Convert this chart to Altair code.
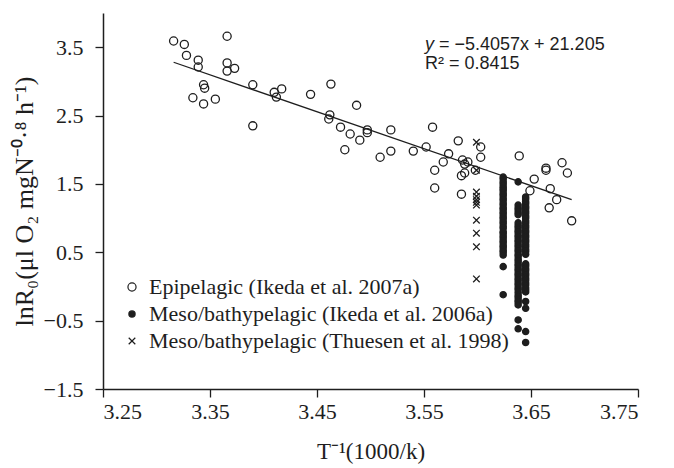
import altair as alt
import pandas as pd

# Epipelagic (open circles)
epi_x = [3.316, 3.326, 3.328, 3.339, 3.339, 3.366, 3.366, 3.366, 3.373, 3.344,
         3.345, 3.334, 3.344, 3.355, 3.390, 3.390, 3.410, 3.412, 3.417, 3.444,
         3.463, 3.462, 3.461, 3.487, 3.472, 3.481, 3.490, 3.497, 3.497, 3.519,
         3.476, 3.509, 3.519, 3.540, 3.552, 3.558, 3.573, 3.582, 3.568, 3.560,
         3.560, 3.586, 3.591, 3.588, 3.588, 3.585, 3.585, 3.603, 3.603, 3.639,
         3.664, 3.664, 3.679, 3.684, 3.653, 3.649, 3.668, 3.674, 3.667, 3.688,
         3.598]
epi_y = [3.59, 3.54, 3.38, 3.31, 3.21, 3.66, 3.27, 3.15, 3.19, 2.95,
         2.90, 2.76, 2.67, 2.74, 2.95, 2.35, 2.84, 2.77, 2.89, 2.81,
         2.96, 2.51, 2.45, 2.65, 2.33, 2.23, 2.14, 2.29, 2.25, 2.29,
         2.00, 1.89, 1.98, 1.98, 2.04, 2.33, 1.94, 2.13, 1.82, 1.70,
         1.44, 1.85, 1.82, 1.79, 1.66, 1.62, 1.35, 2.04, 1.89, 1.91,
         1.73, 1.70, 1.81, 1.66, 1.57, 1.40, 1.43, 1.27, 1.15, 0.96,
         1.70]

# Meso/bathypelagic, Ikeda et al. 2006a (filled dots), three columns
dot1_y = [1.60, 1.57, 1.53, 1.50, 1.46, 1.43, 1.40, 1.36, 1.33, 1.29,
          1.26, 1.22, 1.19, 1.15, 1.13, 1.09, 1.06, 1.02, 0.99, 0.95,
          0.92, 0.88, 0.85, 0.80, 0.78, 0.74, 0.71, 0.67, 0.64, 0.60,
          0.57, 0.53, 0.50, 0.46, 0.29, -0.12]
dot2_y = [1.53, 1.19, 1.15, 1.12, 1.08, 1.05, 0.93, 0.89, 0.86, 0.82,
          0.79, 0.75, 0.72, 0.68, 0.65, 0.61, 0.58, 0.54, 0.51, 0.47,
          0.44, 0.40, 0.37, 0.33, 0.30, 0.26, 0.23, 0.19, 0.16, 0.12,
          0.09, 0.05, 0.02, -0.02, -0.05, -0.09, -0.13, -0.16, -0.20, -0.23,
          -0.27, -0.49, -0.62]
dot3_y = [1.31, 1.28, 1.24, 1.21, 1.17, 1.14, 1.10, 1.07, 1.03, 1.00,
          0.96, 0.93, 0.89, 0.86, 0.82, 0.79, 0.75, 0.72, 0.68, 0.65,
          0.61, 0.58, 0.54, 0.51, 0.47, 0.33, 0.30, 0.26, 0.23, 0.19,
          0.16, 0.12, 0.09, 0.05, 0.02, -0.02, -0.05, -0.08, -0.22, -0.32,
          -0.66, -0.82]
dot_cols_x = [3.624, 3.638, 3.645]

# Meso/bathypelagic, Thuesen et al. 1998 (crosses)
thu_x = 3.599
thu_y = [2.11, 1.70, 1.38, 1.32, 1.27, 1.23, 1.19, 0.97, 0.78, 0.58, 0.11]

series_names = [
    "Epipelagic (Ikeda et al.  2007a)",
    "Meso/bathypelagic (Ikeda et al.  2006a)",
    "Meso/bathypelagic (Thuesen et al. 1998)",
]

slope = -5.4057
intercept = 21.205

x_ticks = [3.25, 3.35, 3.45, 3.55, 3.65, 3.75]
y_ticks = [-1.5, -0.5, 0.5, 1.5, 2.5, 3.5]

rows = []
for x, y in zip(epi_x, epi_y):
    rows.append({"x": x, "y": y, "s": series_names[0]})
for cx, ys_ in zip(dot_cols_x, [dot1_y, dot2_y, dot3_y]):
    for y in ys_:
        rows.append({"x": cx, "y": y, "s": series_names[1]})
for y in thu_y:
    rows.append({"x": thu_x, "y": y, "s": series_names[2]})
df = pd.DataFrame(rows)

xmin, xmax = min(epi_x), max(epi_x)
line_df = pd.DataFrame({"x": [xmin, xmax],
                        "y": [slope * xmin + intercept, slope * xmax + intercept]})

INK = "#1e1e1e"
SERIF = "Liberation Serif"

xs = alt.Scale(domain=[3.25, 3.75], nice=False, zero=False)
ys = alt.Scale(domain=[-1.5, 4.0], nice=False, zero=False)

cross_path = "M-1.9,-1.9L1.9,1.9M-1.9,1.9L1.9,-1.9"


def make_legend():
    return alt.Legend(title=None, orient="none", legendX=18, legendY=263,
                      labelFont=SERIF, labelFontSize=22, labelColor=INK,
                      labelLimit=600, labelOffset=6, rowPadding=5,
                      padding=0, symbolStrokeWidth=1.2)


points = alt.Chart(df).mark_point(
    stroke=INK, strokeWidth=1.3, opacity=1
).encode(
    x=alt.X("x:Q", scale=xs,
            axis=alt.Axis(values=x_ticks, format=".2f", title="T⁻¹(1000/k)")),
    y=alt.Y("y:Q", scale=ys,
            axis=alt.Axis(values=y_ticks, format=".1f",
                          title="lnR₀(μl O₂ mgN⁻⁰·⁸ h⁻¹)")),
    shape=alt.Shape("s:N", scale=alt.Scale(domain=series_names,
                                           range=["circle", "circle", cross_path]),
                    legend=make_legend()),
    fill=alt.Fill("s:N", scale=alt.Scale(domain=series_names,
                                         range=["transparent", INK, "transparent"]),
                  legend=make_legend()),
    size=alt.Size("s:N", scale=alt.Scale(domain=series_names, range=[66, 12, 45]),
                  legend=make_legend()),
)

fit = alt.Chart(line_df).mark_line(color=INK, strokeWidth=1.3).encode(
    x=alt.X("x:Q", scale=xs), y=alt.Y("y:Q", scale=ys)
)

eq_y = alt.Chart(pd.DataFrame({"t": ["y"]})).mark_text(
    align="left", baseline="middle", font="Liberation Sans", fontSize=18,
    fontStyle="italic", color=INK
).encode(text="t:N", x=alt.value(322), y=alt.value(32))

eq_rest = alt.Chart(pd.DataFrame({"t": [f"= \u2212{abs(slope):.4f}x + {intercept:.3f}"]})).mark_text(
    align="left", baseline="middle", font="Liberation Sans", fontSize=18, color=INK
).encode(text="t:N", x=alt.value(336), y=alt.value(32))

r2 = alt.Chart(pd.DataFrame({"t": ["R² = 0.8415"]})).mark_text(
    align="left", baseline="middle", font="Liberation Sans", fontSize=18, color=INK
).encode(text="t:N", x=alt.value(322), y=alt.value(51))

chart = alt.layer(points, fit, eq_y, eq_rest, r2).properties(
    width=535, height=376, padding={"left": 3, "top": 5, "right": 5, "bottom": 5}
).configure_view(stroke=None).configure_axis(
    domainColor=INK, domainWidth=1.5, tickColor=INK, tickWidth=1.3, tickSize=8,
    labelFont=SERIF, labelFontSize=22, labelColor=INK,
    titleFont=SERIF, titleFontWeight="normal", titleColor=INK,
    grid=False
).configure_axisX(titlePadding=18, labelPadding=4, titleFontSize=23).configure_axisY(
    titlePadding=6, labelPadding=12, titleFontSize=26)

chart.save("out.html", embed_options={"renderer": "svg", "actions": False})
